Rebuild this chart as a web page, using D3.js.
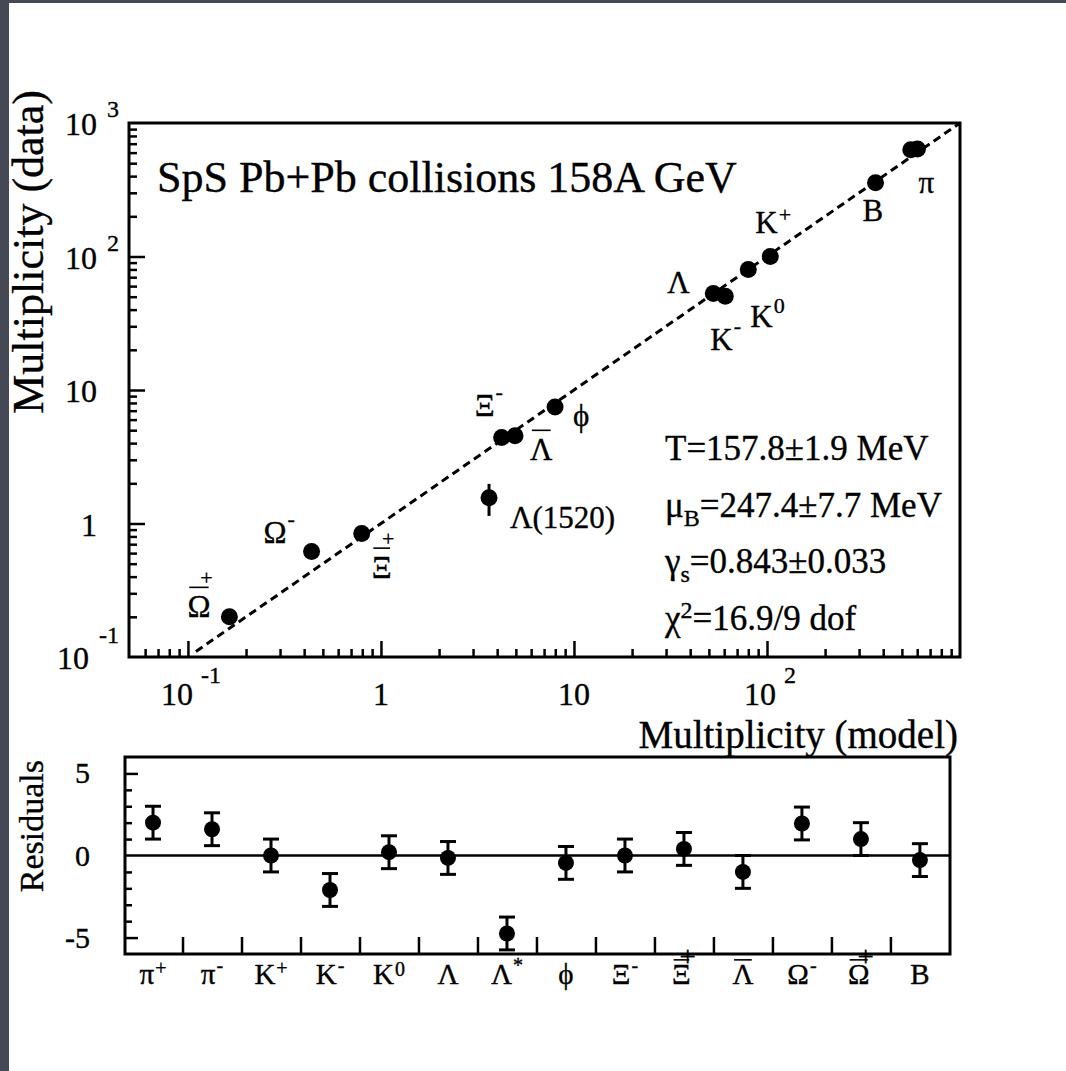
<!DOCTYPE html>
<html>
<head>
<meta charset="utf-8">
<script src="https://cdn.jsdelivr.net/npm/d3@7"></script>
<style>
  html, body { margin: 0; padding: 0; background: #fff; }
  svg { display: block; }
  svg text { fill: #000; stroke: #000; stroke-width: 0.35px; }
</style>
</head>
<body>
<svg id="chart" width="1066" height="1071"
     font-family="'Liberation Serif', Tinos, 'DejaVu Serif', serif"></svg>
<script>
// ---- particle species (same order in both panels) ----
const particleBase = ["π", "π", "K", "K", "K", "Λ", "Λ", "ϕ", "Ξ", "Ξ", "Λ", "Ω", "Ω", "B"];
const particleSup  = ["+", "-", "+", "-", "0", "", "*", "", "-", "+", "", "-", "+", ""];
const particleBar  = [false, false, false, false, false, false, false, false, false, true, true, false, true, false];

// ---- multiplicities: thermal model vs. measured ----
const modelMultiplicity = [556, 602, 104, 60.8, 80, 52.7, 3.63, 7.98, 4.22, 0.795, 4.95, 0.437, 0.164, 365];
const dataMultiplicity  = [631, 639, 100, 50.3, 80, 52.9, 1.56, 7.46, 4.40, 0.84, 4.54, 0.618, 0.20, 357];
const dataError         = [null, null, null, null, null, null, 0.42, null, null, null, null, null, null, null];

// ---- residuals (data - model) / sigma ----
const residuals      = [2.0, 1.6, 0.0, -2.1, 0.2, -0.15, -4.75, -0.45, 0.0, 0.4, -1.0, 1.95, 1.0, -0.28];
const residualErrors = [1, 1, 1, 1, 1, 1, 1, 1, 1, 1, 1, 1, 1, 1];

// ---- axis tick labels ----
const yTickLabels = [
  { value: 1000, base: "10", exp: "3" },
  { value: 100,  base: "10", exp: "2" },
  { value: 10,   base: "10", exp: "" },
  { value: 1,    base: "1",  exp: "" },
  { value: 0.1,  base: "10", exp: "-1" }
];
const xTickLabels = [
  { value: 0.1, base: "10", exp: "-1" },
  { value: 1,   base: "1",  exp: "" },
  { value: 10,  base: "10", exp: "" },
  { value: 100, base: "10", exp: "2" }
];
const residualTickLabels = [5, 0, -5];
const residualMinorTicks = [4, 3, 2, 1, -1, -2, -3, -4];

// ---- fit result text ----
const fitLines = [
  [{ t: "T=157.8±1.9 MeV" }],
  [{ t: "μ" }, { t: "B", sub: true }, { t: "=247.4±7.7 MeV" }],
  [{ t: "γ" }, { t: "s", sub: true }, { t: "=0.843±0.033" }],
  [{ t: "χ" }, { t: "2", sup: true }, { t: "=16.9/9 dof" }]
];

const diagonal = [0.11, 1000];

// ---------------------------------------------------------------
const svg = d3.select("#chart");
svg.append("rect").attr("width", 1066).attr("height", 1071).attr("fill", "#fff");
svg.append("rect").attr("x", 0).attr("y", 0).attr("width", 9).attr("height", 1071).attr("fill", "#444955");
svg.append("rect").attr("x", 0).attr("y", 0).attr("width", 1066).attr("height", 3).attr("fill", "#444955");

// main panel geometry
const M = { left: 129, right: 960, top: 123, bottom: 657 };
const x = d3.scaleLog().domain([0.0495, 1000]).range([M.left, M.right]);
const y = d3.scaleLog().domain([0.1, 1000]).range([M.bottom, M.top]);

// residual panel geometry
const R = { left: 125, right: 950, top: 757, bottom: 954 };
const rx = d3.scaleLinear().domain([-0.475, 13.51]).range([R.left, R.right]);
const ry = d3.scaleLinear().domain([-6, 6]).range([R.bottom, R.top]);

const isPow10 = v => Math.abs(Math.log10(v) - Math.round(Math.log10(v))) < 1e-9;

// width of a string at a given size (temporary text node)
function textWidth(str, size) {
  const t = svg.append("text").attr("font-size", size).text(str);
  const w = t.node().getComputedTextLength();
  t.remove();
  return w;
}

// composite particle label: base glyph, optional superscript and an
// overbar line for antiparticles
function particleLabel(parent, px, py, base, sup, bar, o) {
  const w = textWidth(base, o.size);
  const g = parent.append("g");
  let right = w;
  let by = 0;
  if (bar) {
    by = -0.66 * o.size - o.barGap;
    g.append("line").attr("x1", w * 0.08).attr("x2", w * 0.92)
      .attr("y1", by).attr("y2", by).attr("stroke", "#000").attr("stroke-width", 1.6);
  }
  if (bar && sup && o.inlineBarSup) {
    // one text run, the sign positioned glyph-wise on the bar's right end
    const sw = textWidth(sup, o.size);
    const sdx = -(w * 0.17 + sw / 2);
    const sdy = by + 0.25 * o.size * 0.8;
    g.append("text").attr("font-size", o.size)
      .attr("dx", `0 ${sdx}`).attr("dy", `0 ${sdy}`).text(base + sup);
    right = Math.max(right, w * 0.83 + sw / 2);
  } else {
    const t = g.append("text").attr("font-size", o.size);
    t.append("tspan").text(base);
    if (sup) {
      const sw = textWidth(sup, o.supSize);
      const s = t.append("tspan").attr("font-size", o.supSize).text(sup);
      if (bar) {
        s.attr("dx", -(w * 0.17 + sw / 2)).attr("dy", by + o.barSupShift * o.supSize);
        right = Math.max(right, w * 0.83 + sw / 2);
      } else {
        s.attr("dx", 1).attr("dy", -o.raise[sup]);
        right = w + 1 + sw;
      }
    }
  }
  const ox = o.anchor === "middle" ? px - right / 2 : px;
  g.attr("transform", `translate(${ox},${py})`);
}

// ================= main panel =================
const main = svg.append("g");

const xAll = x.ticks().filter(v => x(v) > M.left + 2 && x(v) < M.right - 2);
const yAll = y.ticks().filter(v => y(v) < M.bottom - 2 && y(v) > M.top + 2);

function tickAxis(g) { g.select(".domain").remove(); g.selectAll("line").attr("stroke", "#000").attr("stroke-width", 2.5); }

main.append("g").attr("transform", `translate(0,${M.bottom})`)
  .call(d3.axisBottom(x).tickValues(xAll.filter(v => !isPow10(v))).tickSize(-8).tickFormat(""))
  .call(tickAxis);
main.append("g").attr("transform", `translate(0,${M.bottom})`)
  .call(d3.axisBottom(x).tickValues(xAll.filter(isPow10)).tickSize(-16).tickFormat(""))
  .call(tickAxis);
main.append("g").attr("transform", `translate(${M.left},0)`)
  .call(d3.axisLeft(y).tickValues(yAll.filter(v => !isPow10(v))).tickSize(-8).tickFormat(""))
  .call(tickAxis);
main.append("g").attr("transform", `translate(${M.left},0)`)
  .call(d3.axisLeft(y).tickValues(yAll.filter(isPow10)).tickSize(-16).tickFormat(""))
  .call(tickAxis);

// frame
main.append("rect").attr("x", M.left).attr("y", M.top)
  .attr("width", M.right - M.left).attr("height", M.bottom - M.top)
  .attr("fill", "none").attr("stroke", "#000").attr("stroke-width", 3);

// y tick labels (base + exponent in one text element)
yTickLabels.forEach(d => {
  const ty = y(d.value);
  if (d.exp) {
    const bw = textWidth(d.base, 32), ew = textWidth(d.exp, 24);
    const total = bw + 10 + ew;
    const expDy = d.exp.startsWith("-") ? -26 : -18;
    const t = main.append("text").attr("font-size", 32).attr("x", 119 - total).attr("y", ty + 12);
    t.append("tspan").text(d.base);
    t.append("tspan").attr("font-size", 24).attr("dx", 10).attr("dy", expDy).text(d.exp);
  } else {
    main.append("text").attr("font-size", 32).attr("x", 97).attr("y", ty + 12)
      .attr("text-anchor", "end").text(d.base);
  }
});

// x tick labels
xTickLabels.forEach(d => {
  const tx = x(d.value);
  const bw = textWidth(d.base, 32);
  if (d.exp) {
    const total = bw + 8 + textWidth(d.exp, 24);
    const t = main.append("text").attr("font-size", 32).attr("x", tx + 3 - total / 2).attr("y", M.bottom + 48);
    t.append("tspan").text(d.base);
    t.append("tspan").attr("font-size", 24).attr("dx", 8).attr("dy", -22).text(d.exp);
  } else {
    main.append("text").attr("font-size", 32).attr("x", tx).attr("y", M.bottom + 48)
      .attr("text-anchor", "middle").text(d.base);
  }
});

// axis titles
main.append("text").attr("x", 958).attr("y", 748).attr("text-anchor", "end")
  .attr("font-size", 39).text("Multiplicity (model)");
main.append("text").attr("transform", "translate(43,90) rotate(-90)")
  .attr("text-anchor", "end").attr("font-size", 44).text("Multiplicity (data)");

// title
main.append("text").attr("x", 157).attr("y", 192).attr("font-size", 44)
  .text("SpS Pb+Pb collisions 158A GeV");

// y = x reference line
main.append("path")
  .datum(diagonal)
  .attr("d", d3.line().x(v => x(v)).y(v => y(v)))
  .attr("fill", "none").attr("stroke", "#000").attr("stroke-width", 3)
  .attr("stroke-dasharray", "8,5");

// data points
const pts = d3.range(modelMultiplicity.length);
main.append("g").selectAll("line").data(pts.filter(i => dataError[i] != null)).join("line")
  .attr("x1", i => x(modelMultiplicity[i])).attr("x2", i => x(modelMultiplicity[i]))
  .attr("y1", i => y(dataMultiplicity[i] + dataError[i]))
  .attr("y2", i => y(dataMultiplicity[i] - dataError[i]))
  .attr("stroke", "#000").attr("stroke-width", 3);
main.append("g").selectAll("circle").data(pts).join("circle")
  .attr("cx", i => x(modelMultiplicity[i])).attr("cy", i => y(dataMultiplicity[i]))
  .attr("r", 8.5).attr("fill", "#000");

// point annotations (offsets from the marker centre)
const mainLabels = [
  { i: 1,  base: "π",       dx: 1,   dy: 44 },
  { i: 13, dx: -13, dy: 38 },
  { i: 2,  dx: -15, dy: -24 },
  { i: 4,  dx: 2,   dy: 58 },
  { i: 3,  dx: -15, dy: 54 },
  { i: 5,  dx: -46, dy: 0 },
  { i: 7,  dx: 18,  dy: 19 },
  { i: 10, dx: 15,  dy: 24 },
  { i: 8,  dx: -27, dy: -22 },
  { i: 6,  base: "Λ(1520)", dx: 21,  dy: 30 },
  { i: 9,  dx: 10,  dy: 44 },
  { i: 11, dx: -48, dy: -8 },
  { i: 12, dx: -42, dy: 0 }
];
const mainLabelStyle = { size: 31, supSize: 22, barGap: 9, barSupShift: -0.1, anchor: "start",
  raise: { "+": 11, "-": 17, "0": 14, "*": 12 } };
mainLabels.forEach(d => {
  const i = d.i;
  const base = d.base || particleBase[i];
  const sup = d.base ? "" : particleSup[i];
  particleLabel(main, x(modelMultiplicity[i]) + d.dx, y(dataMultiplicity[i]) + d.dy,
    base, sup, particleBar[i], mainLabelStyle);
});

// fit results
fitLines.forEach((line, k) => {
  const t = main.append("text").attr("x", 665).attr("y", 460 + k * 56.7).attr("font-size", 35);
  let shift = 0;
  line.forEach(part => {
    const s = t.append("tspan").text(part.t);
    if (part.sub) { s.attr("font-size", 24).attr("dy", 9 - shift); shift = 9; }
    else if (part.sup) { s.attr("font-size", 24).attr("dy", -12 - shift); shift = -12; }
    else { s.attr("dy", -shift); shift = 0; }
  });
});

// ================= residual panel =================
const res = svg.append("g");

res.append("g").attr("transform", `translate(0,${R.bottom})`)
  .call(d3.axisBottom(rx).tickValues(d3.range(13).map(i => i + 0.5)).tickSize(-17).tickFormat(""))
  .call(tickAxis);
res.append("g").attr("transform", `translate(${R.left},0)`)
  .call(d3.axisLeft(ry).tickValues(residualMinorTicks).tickSize(-7).tickFormat(""))
  .call(tickAxis);
res.append("g").attr("transform", `translate(${R.left},0)`)
  .call(d3.axisLeft(ry).tickValues([5, -5]).tickSize(-13).tickFormat(""))
  .call(tickAxis);

res.append("rect").attr("x", R.left).attr("y", R.top)
  .attr("width", R.right - R.left).attr("height", R.bottom - R.top)
  .attr("fill", "none").attr("stroke", "#000").attr("stroke-width", 3);

// zero line
res.append("line").attr("x1", R.left).attr("x2", R.right)
  .attr("y1", ry(0)).attr("y2", ry(0)).attr("stroke", "#000").attr("stroke-width", 2.5);

// y tick labels
residualTickLabels.forEach(v => {
  res.append("text").attr("x", 90).attr("y", ry(v) + 10).attr("text-anchor", "end")
    .attr("font-size", 30).text(v < 0 ? "-" + Math.abs(v) : String(v));
});

// title
res.append("text").attr("transform", "translate(43,760) rotate(-90)")
  .attr("text-anchor", "end").attr("font-size", 34).text("Residuals");

// error bars and points
const rIdx = d3.range(residuals.length);
const eb = res.append("g").attr("stroke", "#000").attr("stroke-width", 3);
eb.selectAll("line.v").data(rIdx).join("line").attr("class", "v")
  .attr("x1", i => rx(i)).attr("x2", i => rx(i))
  .attr("y1", i => ry(residuals[i] + residualErrors[i]))
  .attr("y2", i => ry(residuals[i] - residualErrors[i]));
eb.selectAll("line.t").data(rIdx).join("line").attr("class", "t")
  .attr("x1", i => rx(i) - 8).attr("x2", i => rx(i) + 8)
  .attr("y1", i => ry(residuals[i] + residualErrors[i]))
  .attr("y2", i => ry(residuals[i] + residualErrors[i]));
eb.selectAll("line.b").data(rIdx).join("line").attr("class", "b")
  .attr("x1", i => rx(i) - 8).attr("x2", i => rx(i) + 8)
  .attr("y1", i => ry(residuals[i] - residualErrors[i]))
  .attr("y2", i => ry(residuals[i] - residualErrors[i]));
res.append("g").selectAll("circle").data(rIdx).join("circle")
  .attr("cx", i => rx(i)).attr("cy", i => ry(residuals[i]))
  .attr("r", 8).attr("fill", "#000");

// category labels
const resLabelStyle = { size: 29, supSize: 20, barGap: 5, barSupShift: 0.25, anchor: "middle",
  inlineBarSup: true, raise: { "+": 9, "-": 12, "0": 8, "*": 12 } };
rIdx.forEach(i => {
  particleLabel(res, rx(i), 984, particleBase[i], particleSup[i], particleBar[i], resLabelStyle);
});
</script>
</body>
</html>
